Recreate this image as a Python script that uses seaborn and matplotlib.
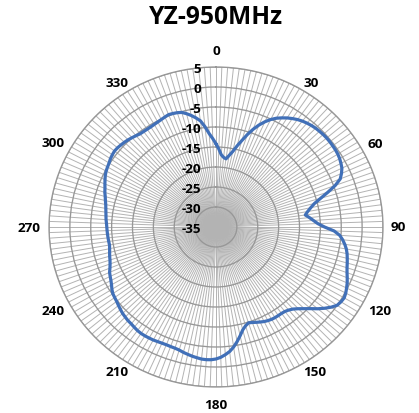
import numpy as np
import matplotlib
matplotlib.use("Agg")
import matplotlib.pyplot as plt
import seaborn as sns
import pandas as pd

# ---- data ----
title = "YZ-950MHz"
angles_deg = list(range(0, 360, 2))
gain_db = [
    -14.2, -15.5, -16.9, -17.5, -17.8, -16.8, -15.7, -14.1, -12.5, -10.7,   # 0-18
    -9.0, -7.5, -6.2, -5.1, -4.2, -3.5, -2.85, -2.3, -1.8, -1.4,          # 20-38
    -1.1, -0.85, -0.65, -0.55, -0.45, -0.4, -0.4, -0.45, -0.5, -0.6,      # 40-58
    -0.8, -1.1, -1.45, -2.1, -2.9, -4.6, -6.8, -8.9, -10.7, -11.8,       # 60-78
    -12.7, -13.4, -12.5, -11.6, -10.6, -9.0, -6.7, -5.3, -4.5, -3.85,    # 80-98
    -3.3, -2.9, -2.6, -2.3, -2.0, -1.6, -1.1, -0.6, -0.2, 0.2,           # 100-118
    0.45, 0.3, 0.0, -0.9, -2.0, -3.2, -4.5, -5.6, -6.6, -7.4,            # 120-138
    -7.9, -8.2, -8.3, -8.3, -8.3, -8.35, -8.5, -8.7, -9.0, -9.3,         # 140-158
    -9.6, -9.8, -9.3, -8.5, -7.2, -5.9, -4.7, -3.7, -3.0, -2.4,          # 160-178
    -2.0, -1.8, -1.75, -1.8, -2.0, -2.2, -2.45, -2.7, -3.0, -3.15,       # 180-198
    -3.2, -3.25, -3.2, -3.1, -3.0, -2.95, -2.9, -2.9, -3.0, -3.2,        # 200-218
    -3.4, -3.5, -3.7, -3.9, -4.2, -4.5, -4.8, -5.0, -5.2, -5.6,          # 220-238
    -6.1, -6.5, -6.8, -7.1, -7.6, -8.0, -8.3, -8.5, -8.75, -8.95,        # 240-258
    -9.1, -9.05, -9.0, -8.95, -8.9, -8.85, -8.75, -8.6, -8.5, -8.35,     # 260-278
    -8.2, -8.0, -7.7, -7.4, -7.0, -6.7, -6.3, -5.9, -5.5, -5.2,          # 280-298
    -5.0, -4.8, -4.5, -4.3, -4.15, -4.2, -4.35, -4.5, -4.7, -4.95,       # 300-318
    -5.2, -5.45, -5.5, -5.5, -5.5, -5.4, -5.25, -5.1, -4.9, -4.7,        # 320-338
    -4.8, -4.95, -5.2, -5.8, -6.5, -7.3, -8.2, -9.8, -11.6, -12.9,       # 340-358
]
angle_labels = ["0", "30", "60", "90", "120", "150", "180", "210", "240", "270", "300", "330"]
angle_label_pos = [0, 30, 60, 90, 120, 150, 180, 210, 240, 270, 300, 330]
r_ticks = [5, 0, -5, -10, -15, -20, -25, -30, -35]
r_min, r_max = -35, 5

# ---- layout / style ----
W, H, DPI = 419, 414, 100
line_color = "#4170B8"
spoke_color = "#b3b3b3"
ring_color = "#979797"
# pixel offsets of angle labels from rim point (layout)
angle_label_offsets_px = [(0, -16.3), (11.5, -6.1), (14.4, -4), (15.3, 0), (18.7, 3.7), (15.5, 5.7),
                          (0, 18), (-15.8, 5.7), (-18.7, 3.7), (-19.7, 0), (-18.7, -4), (-15.8, -6.1)]

sns.set_theme(style="white")
plt.rcParams["font.family"] = ["Open Sans", "DejaVu Sans"]

fig = plt.figure(figsize=(W / DPI, H / DPI), dpi=DPI)
cx, cy = 216, 228
rx, ry = 167, 160
ax = fig.add_axes([(cx - rx) / W, (H - cy - ry) / H, 2 * rx / W, 2 * ry / H], projection="polar")
ax.set_aspect("auto")
ax.set_theta_zero_location("N")
ax.set_theta_direction(-1)

theta = np.deg2rad(np.array(angles_deg + [angles_deg[0]]))
vals = np.array(gain_db + [gain_db[0]])
df = pd.DataFrame({"theta": theta, "gain": vals})

ax.set_ylim(r_min, r_max)
ax.set_xticks(np.deg2rad(np.array(angles_deg)))
ax.set_xticklabels([])
ax.set_yticks(r_ticks)
ax.set_yticklabels([])
ax.xaxis.grid(True, color=spoke_color, linewidth=0.7)
ax.yaxis.grid(True, color=ring_color, linewidth=0.95)
ax.spines["polar"].set_color(ring_color)
ax.spines["polar"].set_linewidth(0.95)
ax.tick_params(length=0)
ax.set_facecolor("white")

sns.lineplot(data=df, x="theta", y="gain", sort=False, estimator=None, ax=ax,
             color=line_color, linewidth=2.3, legend=False)
ax.set_xlabel("")
ax.set_ylabel("")
ax.set_ylim(r_min, r_max)

px2pt = 72 / DPI
for lab, a, (dx, dy) in zip(angle_labels, angle_label_pos, angle_label_offsets_px):
    ax.annotate(lab, xy=(np.deg2rad(a), r_max), xycoords="data",
                xytext=(dx * px2pt, -dy * px2pt), textcoords="offset points",
                ha="center", va="center", fontsize=9.7, fontweight="bold",
                color="black", annotation_clip=False)

for v in r_ticks:
    ax.annotate(str(v), xy=(0, v), xycoords="data", xytext=(-15 * px2pt, 0),
                textcoords="offset points", ha="right", va="center_baseline",
                fontsize=9.7, fontweight="bold", color="black", annotation_clip=False)

fig.text(216 / W, 1 - 18 / H, title, ha="center", va="center", fontsize=17.7,
         fontweight="bold", color="black")

fig.savefig("out.png", dpi=DPI, facecolor="white")
